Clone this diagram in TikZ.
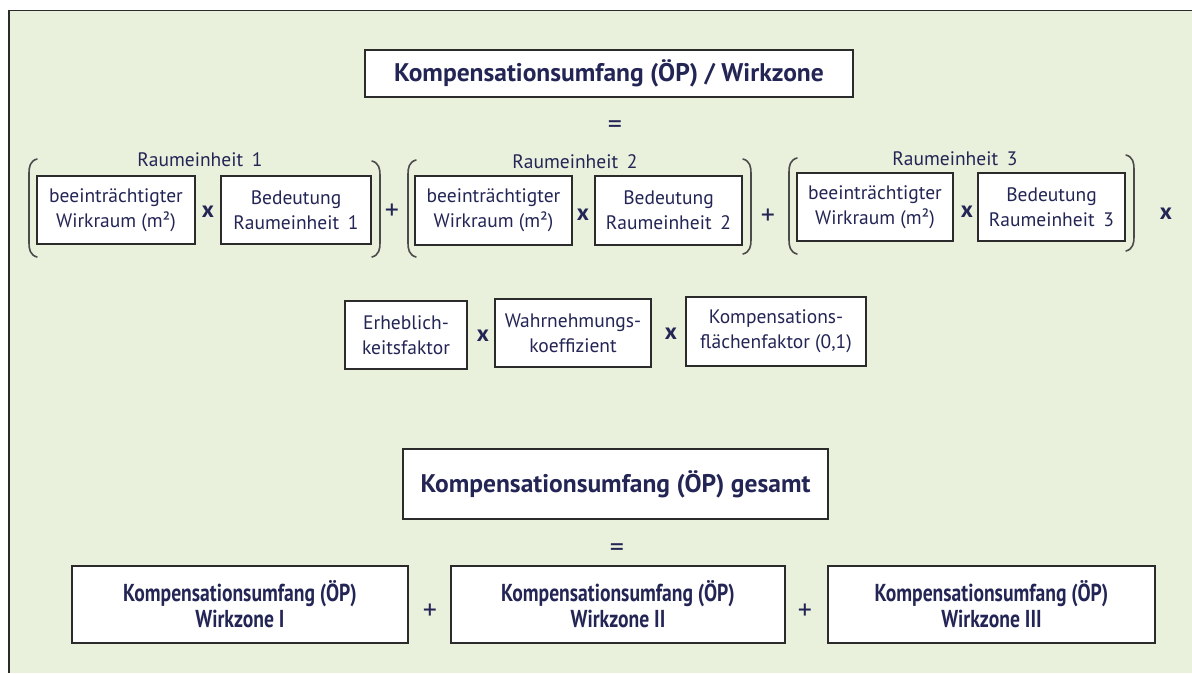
\documentclass[tikz,border=0pt]{standalone}
\usepackage{fontspec}
\setmainfont{PT Sans}
\newfontfamily\narrowfont[FakeStretch=0.8]{PT Sans}
\usetikzlibrary{positioning}
\definecolor{paper}{HTML}{E9F0DC}
\definecolor{ink}{HTML}{232555}
\definecolor{rim}{HTML}{2B2B2B}

% round brackets: x, top, bottom
\newcommand{\brkL}[3]{\draw[brace] (#1+8,#2) .. controls (#1+1,#2+2) and (#1,#2+8) .. (#1,#2+14)
  -- (#1,#3-14) .. controls (#1,#3-8) and (#1+1,#3-2) .. (#1+8,#3);}
\newcommand{\brkR}[3]{\draw[brace] (#1-8,#2) .. controls (#1-1,#2+2) and (#1,#2+8) .. (#1,#2+14)
  -- (#1,#3-14) .. controls (#1,#3-8) and (#1-1,#3-2) .. (#1-8,#3);}

\begin{document}
\begin{tikzpicture}[x=1pt, y=-1pt,
    term/.style={draw=rim, line width=1.4pt, fill=white, align=center, text=ink,
                 font=\fontsize{19.5}{25}\selectfont, inner sep=0pt},
    headbox/.style={term, font=\fontsize{25.5}{30}\selectfont\bfseries},
    zonebox/.style={term, minimum height=77pt,
                    font=\fontsize{24.5}{26}\selectfont\narrowfont\bfseries},
    op/.style={text=ink, font=\fontsize{23}{24}\selectfont\bfseries, inner sep=0pt},
    plusop/.style={op, font=\fontsize{28}{28}\selectfont},
    unitlbl/.style={text=ink, font=\fontsize{19.5}{22}\selectfont, inner sep=0pt},
    brace/.style={draw=rim!85, line width=1.6pt, line cap=round}
  ]
    \useasboundingbox (0,0) rectangle (1192,673);
    \fill[paper] (9,10.5) rectangle (1192,673);
    \draw[rim, line width=1.8pt] (1192,10.5) -- (9,10.5) -- (9,673);

    % ---- per Wirkzone ----
    \node[headbox, minimum width=488pt, minimum height=47pt] (head) at (609,73.5)
      {Kompensationsumfang (ÖP) / Wirkzone};
    \node[plusop] (eqtop) at (615,127) {=};

    \node[unitlbl] (ru1) at (200,160) {Raumeinheit\hspace{0.45em}1};
    \node[term, minimum width=158pt, minimum height=68pt] (wirk1) at (116,210)
      {beeinträchtigter\\Wirkraum (m²)};
    \node[op] (x1) at (208,212) {x};
    \node[term, minimum width=150pt, minimum height=68pt] (bed1) at (296,210)
      {Bedeutung\\Raumeinheit\hspace{0.45em}1};
    \node[plusop] (plus1) at (392,212) {+};

    \node[unitlbl] (ru2) at (575,162) {Raumeinheit\hspace{0.45em}2};
    \node[term, minimum width=157pt, minimum height=69pt] (wirk2) at (493.5,210.5)
      {beeinträchtigter\\Wirkraum (m²)};
    \node[op] (x2) at (583,215) {x};
    \node[term, minimum width=147pt, minimum height=69pt] (bed2) at (668.5,210.5)
      {Bedeutung\\Raumeinheit\hspace{0.45em}2};
    \node[plusop] (plus2) at (768,217) {+};

    \node[unitlbl] (ru3) at (955,159) {Raumeinheit\hspace{0.45em}3};
    \node[term, minimum width=156pt, minimum height=68pt] (wirk3) at (875,207)
      {beeinträchtigter\\Wirkraum (m²)};
    \node[op] (x3) at (967,212) {x};
    \node[term, minimum width=147pt, minimum height=68pt] (bed3) at (1051.5,207)
      {Bedeutung\\Raumeinheit\hspace{0.45em}3};
    \node[op] (x4) at (1166,214) {x};

    \brkL{29}{159}{257} \brkR{380}{161}{257}
    \brkL{408}{160}{257} \brkR{751}{159}{254}
    \brkL{789}{158}{254} \brkR{1134}{155}{251}

    \node[term, minimum width=122pt, minimum height=68pt] (erh) at (406,335)
      {Erheblich-\\keitsfaktor};
    \node[op] (x5) at (483,336) {x};
    \node[term, minimum width=156pt, minimum height=68pt] (wahr) at (573,333)
      {Wahrnehmungs-\\koeffizient};
    \node[op] (x6) at (671,334) {x};
    \node[term, minimum width=180pt, minimum height=69pt] (kff) at (776,331.5)
      {Kompensations-\\flächenfaktor (0,1)};

    % ---- gesamt ----
    \node[headbox, minimum width=425pt, minimum height=70pt] (total) at (615.5,484)
      {Kompensationsumfang (ÖP) gesamt};
    \node[plusop] (eqbot) at (617,550) {=};

    \node[zonebox, minimum width=336pt] (zone1) at (240,604.5)
      {Kompensationsumfang (ÖP)\\Wirkzone I};
    \node[plusop] (plus3) at (430,612) {+};
    \node[zonebox, minimum width=334pt] (zone2) at (618,604.5)
      {Kompensationsumfang (ÖP)\\Wirkzone II};
    \node[plusop] (plus4) at (805,612) {+};
    \node[zonebox, minimum width=327pt] (zone3) at (991.5,604.5)
      {Kompensationsumfang (ÖP)\\Wirkzone III};
\end{tikzpicture}
\end{document}
